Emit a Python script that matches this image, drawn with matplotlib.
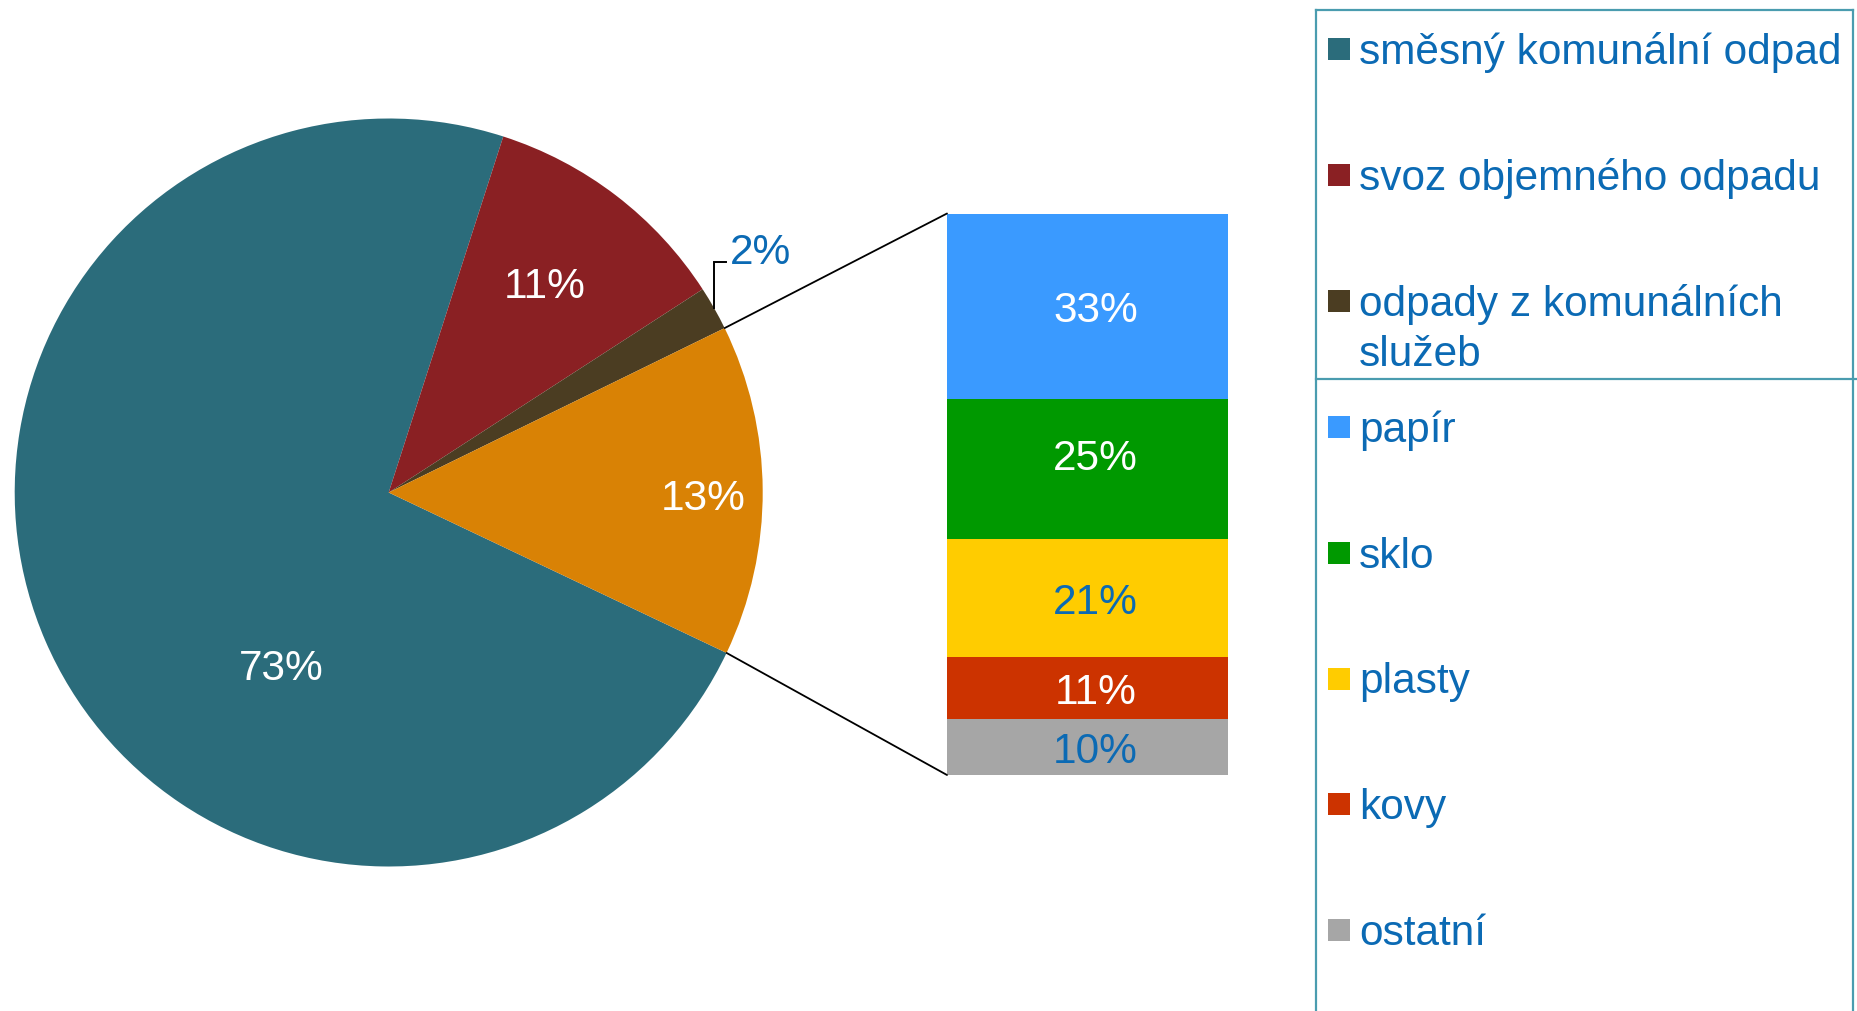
import matplotlib
matplotlib.use('Agg')
import matplotlib.pyplot as plt
from matplotlib.patches import Rectangle, ConnectionPatch
import matplotlib.patheffects as pe
import numpy as np

plt.rcParams['font.family'] = ['Liberation Sans', 'DejaVu Sans']

# ---------------- data ----------------
pie_categories = ['směsný komunální odpad', 'svoz objemného odpadu',
                  'odpady z komunálních\nslužeb', 'tříděný odpad']
pie_values = [72.9, 10.9, 1.9, 14.3]
pie_labels = ['73%', '11%', '2%', '13%']
pie_colors = ['#2B6C7B', '#8A2023', '#4B3D22', '#D98205']

bar_categories = ['papír', 'sklo', 'plasty', 'kovy', 'ostatní']
bar_values = [33, 25, 21, 11, 10]
bar_labels = ['33%', '25%', '21%', '11%', '10%']
bar_colors = ['#3A9AFF', '#009900', '#FFCC00', '#CC3300', '#A6A6A6']

BLUE = '#0B6AB4'
BORDER = '#4A9CAF'
bar_label_colors = ['white', 'white', BLUE, 'white', BLUE]
pie_label_colors = ['white', 'white', BLUE, 'white']

FS = 30.5
EM = FS * 100 / 72.0           # em size in pixels
HALF_DIGIT = 0.358 * EM        # half of digit height in pixels

# ---------------- layout ----------------
W, H = 1858, 1012
fig = plt.figure(figsize=(W / 100, H / 100), dpi=100)

cx, cy, R = 388.7, 493.5, 374.0          # pie centre / radius in pixels (y down)
ax_pie = fig.add_axes([(cx - R) / W, (H - cy - R) / H, 2 * R / W, 2 * R / H])
wedges, _ = ax_pie.pie(pie_values, colors=pie_colors, startangle=-25.4,
                       counterclock=False, radius=1,
                       wedgeprops=dict(linewidth=0))
ax_pie.set_xlim(-1, 1)
ax_pie.set_ylim(-1, 1)
ax_pie.set_aspect('equal')
ax_pie.axis('off')

# in-slice labels (radius fraction, angle offset from wedge middle)
label_r = [0.54, 0.70, None, 0.84]
label_dang = [34.6, 1.0, 0, -0.6]
for w, lab, col, r, da in zip(wedges, pie_labels, pie_label_colors, label_r, label_dang):
    if r is None:
        continue
    mid = np.deg2rad((w.theta1 + w.theta2) / 2 + da)
    ax_pie.text(r * np.cos(mid), r * np.sin(mid) - HALF_DIGIT / R, lab, color=col,
                fontsize=FS, ha='center', va='baseline')

# bar of the exploded slice
bx0, bx1, by0, by1 = 947, 1228, 214.5, 776
ax_bar = fig.add_axes([bx0 / W, (H - by1) / H, (bx1 - bx0) / W, (by1 - by0) / H])
total = sum(bar_values)
unit_per_px = total / (by1 - by0)
shadow = Rectangle((-0.5, 0), 1, total, facecolor='white', edgecolor='none', zorder=0,
                   path_effects=[pe.SimplePatchShadow(offset=(3, -3),
                                                      shadow_rgbFace='#9a9a9a', alpha=0.45),
                                 pe.Normal()])
ax_bar.add_patch(shadow)
bar_label_dy_px = [0, -15, 0, 0, 0]      # label nudges (pixels, up negative)
bottom = 0
for v, c, lab, lc, dy in zip(bar_values[::-1], bar_colors[::-1], bar_labels[::-1],
                             bar_label_colors[::-1], bar_label_dy_px[::-1]):
    ax_bar.bar(0, v, bottom=bottom, width=1, color=c, linewidth=0, zorder=2)
    yc = bottom + v / 2 - dy * unit_per_px
    ax_bar.text(0.028, yc - HALF_DIGIT * unit_per_px, lab, color=lc, fontsize=FS,
                ha='center', va='baseline', zorder=3)
    bottom += v
ax_bar.set_xlim(-0.5, 0.5)
ax_bar.set_ylim(0, total)
ax_bar.axis('off')

# connector lines from the exploded slice to the bar
ow = wedges[3]
for ang, yb in ((ow.theta2, total), (ow.theta1, 0)):
    t = np.deg2rad(ang)
    con = ConnectionPatch(xyA=(np.cos(t), np.sin(t)), coordsA=ax_pie.transData,
                          xyB=(-0.5, yb), coordsB=ax_bar.transData,
                          color='black', linewidth=1.3)
    fig.add_artist(con)

# overlay in pixel coordinates (y down) for leader line and legend
ax_o = fig.add_axes([0, 0, 1, 1], facecolor='none')
ax_o.set_xlim(0, W)
ax_o.set_ylim(H, 0)
ax_o.axis('off')

# leader line + label for the small slice
sw = wedges[2]
m = np.deg2rad((sw.theta1 + sw.theta2) / 2)
px, py = cx + R * np.cos(m), cy - R * np.sin(m)
ax_o.plot([px, px, px + 12], [py, 263, 263], color='black', lw=1.4,
          solid_joinstyle='miter')
ax_o.text(px + 16, 264, pie_labels[2], color=BLUE, fontsize=FS, ha='left', va='baseline')

# legend frame
lx0, lx1, ly0, ldiv = 1316, 1853, 11, 380
ax_o.plot([lx0, lx0], [ly0, H], color=BORDER, lw=1.6)
ax_o.plot([lx1, lx1], [ly0, H], color=BORDER, lw=1.6)
ax_o.plot([lx0, lx1], [ly0, ly0], color=BORDER, lw=1.6)
ax_o.plot([lx0, W], [ldiv, ldiv], color=BORDER, lw=1.6)

# legend entries
names = pie_categories[:3] + bar_categories
cols = pie_colors[:3] + bar_colors
y_first, pitch = 50, 125.9
for i, (nm, c) in enumerate(zip(names, cols)):
    yc = y_first + pitch * i
    ax_o.add_patch(Rectangle((1328, yc - 11), 22, 22, facecolor=c, edgecolor='none'))
    for j, line in enumerate(nm.split('\n')):
        ax_o.text(1359, yc + 14 + 50 * j, line, color=BLUE, fontsize=FS,
                  ha='left', va='baseline')

fig.savefig('out.png', dpi=100)
